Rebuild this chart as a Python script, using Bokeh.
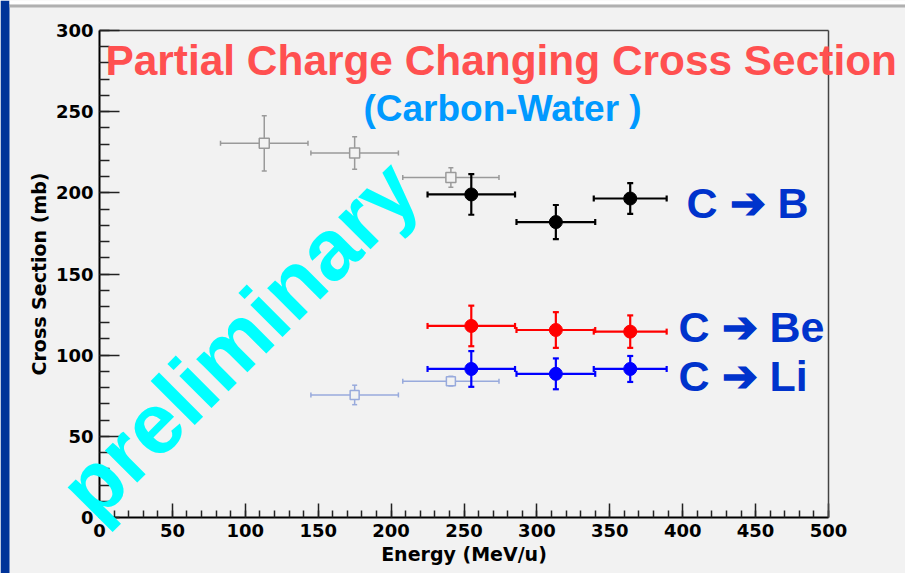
import numpy as np
from bokeh.plotting import figure
from bokeh.models import Label, Range1d, SingleIntervalTicker, FixedTicker, LinearAxis
from bokeh.embed import file_html
from bokeh.resources import INLINE

# ---------------- data ----------------
# older reference measurements (open grey squares)
ref_E = [113, 175, 241]
ref_Eerr = [30, 30, 33]
ref_cs = [230.5, 224.5, 209.5]
ref_cserr = [17, 10, 6]

# older reference measurements (open light-blue squares)
ref2_E = [175, 241]
ref2_Eerr = [30, 33]
ref2_cs = [75.5, 84]
ref2_cserr = [6, 3]

# new measurements
E = [255, 313, 364]
Eerr = [30, 27, 25]
cs_B = [199, 182, 196.5]
err_B = [12.5, 10.5, 9.5]
cs_Be = [118, 115.5, 114.5]
err_Be = [12.5, 11, 10]
cs_Li = [91.5, 88.5, 91.5]
err_Li = [11, 9.5, 8]

x_ticks_interval = 50
y_ticks_interval = 50

# ---------------- layout ----------------
BG = "#f2f2f2"
W, H = 905, 573
XMIN, XMAX, YMIN, YMAX = 0, 500, 0, 300
# pixel positions of the axis box (ROOT-style frame)
X0_PX, X1_PX = 99, 828
Y0_PX, Y1_PX = 517, 30
SX = (X1_PX - X0_PX) / (XMAX - XMIN)
SY = (Y0_PX - Y1_PX) / (YMAX - YMIN)
x_start = XMIN - X0_PX / SX
x_end = XMIN + (W - X0_PX) / SX
y_start = YMIN - (H - Y0_PX) / SY
y_end = YMIN + Y0_PX / SY


def dx(px):
    return x_start + px / SX


def dy(py):
    return y_end - py / SY


p = figure(
    output_backend="svg", toolbar_location=None,
    width=W, height=H,
    min_border=0, min_border_left=0, min_border_right=0,
    min_border_top=0, min_border_bottom=0,
    x_range=Range1d(x_start, x_end), y_range=Range1d(y_start, y_end),
)
p.background_fill_color = BG
p.border_fill_color = BG
p.outline_line_color = None
p.xgrid.visible = False
p.ygrid.visible = False

# page decoration: blue band on the left, grey rule on top
p.quad(left=dx(0), right=dx(9), top=dy(0), bottom=dy(H), fill_color="#003399",
       line_color=None, level="underlay")
p.quad(left=dx(9), right=dx(W), top=dy(0), bottom=dy(4), fill_color="white",
       line_color=None, level="underlay")
p.quad(left=dx(9), right=dx(W), top=dy(4), bottom=dy(7), fill_color="#b0b0b0",
       line_color=None, level="underlay")

p.xaxis.ticker = SingleIntervalTicker(interval=x_ticks_interval, num_minor_ticks=5)
p.yaxis.ticker = SingleIntervalTicker(interval=y_ticks_interval, num_minor_ticks=5)
p.xaxis.fixed_location = YMIN
p.yaxis.fixed_location = XMIN
p.xaxis.bounds = (XMIN, XMAX)
p.yaxis.bounds = (YMIN, YMAX)
for ax in (p.xaxis[0], p.yaxis[0]):
    ax.axis_line_color = "black"
    ax.axis_line_width = 2
    ax.major_tick_line_color = "#222222"
    ax.minor_tick_line_color = "#222222"
    ax.major_tick_line_width = 1.5
    ax.minor_tick_line_width = 1.5
    ax.major_tick_out = 0
    ax.minor_tick_out = 0
    ax.major_label_text_font = "DejaVu Sans"
    ax.major_label_text_font_style = "bold"
    ax.major_label_text_font_size = "18px"
    ax.major_label_text_color = "black"
    ax.axis_label_text_font = "DejaVu Sans"
    ax.axis_label_text_font_style = "bold"
    ax.axis_label_text_font_size = "19px"
    ax.axis_label_text_color = "black"
    ax.major_label_standoff = 6
    ax.axis_label_standoff = 3

p.xaxis.major_tick_in = 14
p.xaxis.minor_tick_in = 7
p.yaxis.major_tick_in = 20
p.yaxis.minor_tick_in = 10
p.xaxis.axis_label = "Energy (MeV/u)"
p.yaxis.axis_label = "Cross Section (mb)"

# top and right frame lines
top_ax = LinearAxis(fixed_location=YMAX, bounds=(XMIN, XMAX), ticker=FixedTicker(ticks=[]),
                    axis_line_color="#444444", axis_line_width=1.5)
right_ax = LinearAxis(fixed_location=XMAX, bounds=(YMIN, YMAX), ticker=FixedTicker(ticks=[]),
                      axis_line_color="#444444", axis_line_width=1.5)
p.add_layout(top_ax, "above")
p.add_layout(right_ax, "right")


def errbars(x, xe, y, ye, color, lw, cap):
    x = np.asarray(x, float); xe = np.asarray(xe, float)
    y = np.asarray(y, float); ye = np.asarray(ye, float)
    p.segment(x - xe, y, x + xe, y, line_color=color, line_width=lw)
    p.segment(x, y - ye, x, y + ye, line_color=color, line_width=lw)
    p.scatter(np.r_[x - xe, x + xe], np.r_[y, y], marker="dash", size=cap,
              angle=np.pi / 2, line_color=color, line_width=lw)
    p.scatter(np.r_[x, x], np.r_[y - ye, y + ye], marker="dash", size=cap,
              line_color=color, line_width=lw)


# older data
errbars(ref_E, ref_Eerr, ref_cs, ref_cserr, "#9a9a9a", 1.5, 5)
p.scatter(ref_E, ref_cs, marker="square", size=10, fill_color=BG,
          line_color="#9a9a9a", line_width=1.5)
errbars(ref2_E, ref2_Eerr, ref2_cs, ref2_cserr, "#98aadc", 1.5, 5)
p.scatter(ref2_E, ref2_cs, marker="square", size=9, fill_color=BG,
          line_color="#98aadc", line_width=1.5)

# new data
for cs, err, col in ((cs_B, err_B, "black"), (cs_Be, err_Be, "#ff0000"),
                     (cs_Li, err_Li, "#0000ff")):
    errbars(E, Eerr, cs, err, col, 2.2, 6)
    p.scatter(E, cs, marker="circle", size=13, fill_color=col, line_color=col)


# ---------------- text annotations (positions given in page pixels) ----------------
BASELINE_FIX = 0.36  # renderer places the alphabetic baseline this many em too low


def add_label(text, px, py, size, color, font="Liberation Sans", angle=0.0):
    shift = BASELINE_FIX * size
    px2 = px - shift * np.sin(angle)
    py2 = py - shift * np.cos(angle)
    p.add_layout(Label(x=dx(px2), y=dy(py2), text=text, text_font=font,
                       text_font_style="bold", text_font_size=f"{size}px",
                       text_color=color, text_align="left",
                       text_baseline="alphabetic", angle=angle))


add_label("preliminary", 96, 524, 86, "#00ffff", angle=np.deg2rad(45))
add_label("Partial Charge Changing Cross Section", 105, 75, 42.4, "#ff5050")
add_label("(Carbon-Water )", 363, 121, 37, "#0099ff")
add_label("C \u2794 B", 686, 218, 43, "#0033cc")
add_label("C \u2794 Be", 678, 342, 43, "#0033cc")
add_label("C \u2794 Li", 678, 391, 43, "#0033cc")

open("out.html", "w").write(file_html(p, INLINE))
